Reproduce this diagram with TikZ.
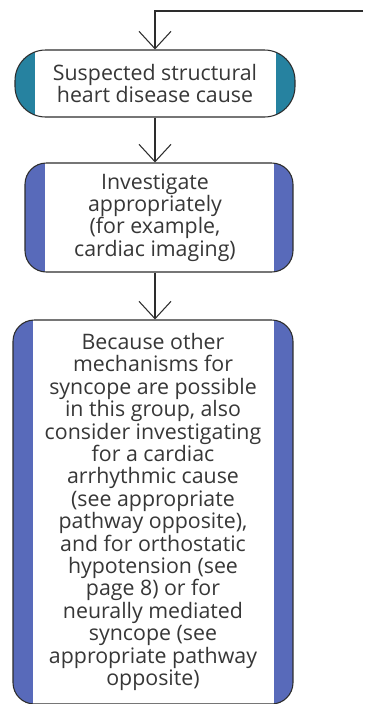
\documentclass[tikz,border=0pt]{standalone}
\usepackage{fontspec}
\setmainfont{Open Sans}
\usetikzlibrary{arrows.meta}
\definecolor{capteal}{RGB}{38,130,160}
\definecolor{capblue}{RGB}{88,106,186}
\definecolor{txtgray}{RGB}{55,55,55}
\definecolor{edgegray}{RGB}{45,45,45}
\tikzset{
  flowbox/.style={draw=edgegray, line width=0.8pt, fill=white, align=center,
    text=txtgray, font=\fontsize{16}{16.8}\selectfont, inner sep=0pt,
    path picture={
      \fill[#1, sharp corners] (path picture bounding box.south west) rectangle ([xshift=15pt]path picture bounding box.north west);
      \fill[#1, sharp corners] ([xshift=-14pt]path picture bounding box.south east) rectangle (path picture bounding box.north east);
    }},
  conn/.style={draw=edgegray, line width=0.8pt, -{Straight Barb[length=13pt,width=24pt,line width=0.8pt]}}
}
\begin{document}
\begin{tikzpicture}[x=0.75pt,y=-0.75pt]
\useasboundingbox (0,0) rectangle (370,704);
\fill[white] (0,0) rectangle (370,704);
\node[flowbox=capteal, rounded corners=23pt, minimum width=210pt, minimum height=50.25pt] (b1) at (155,83.5)
  {Suspected structural\\heart disease cause};
\node[flowbox=capblue, rounded corners=16pt, minimum width=201pt, minimum height=81.75pt] (b2) at (159,217.5)
  {\hspace*{-6pt}Investigate\\\hspace*{-6pt}appropriately\\\hspace*{-6pt}(for example,\\\hspace*{-6pt}cardiac imaging)};
\node[flowbox=capblue, rounded corners=16pt, minimum width=210pt, minimum height=288pt] (b3) at (153,512)
  {Because other\\mechanisms for\\syncope are possible\\in this group, also\\consider investigating\\for a cardiac\\arrhythmic cause\\(see appropriate\\pathway opposite),\\and for orthostatic\\hypotension (see\\page 8) or for\\neurally mediated\\syncope (see\\appropriate pathway\\opposite)};
\coordinate (start) at (363,11);
\draw[conn] (start) -| (b1.north);
\draw[conn] (b1.south) -- (b1.south |- b2.north);
\draw[conn] (b1.south |- b2.south) -- (b1.south |- b3.north);
\end{tikzpicture}
\end{document}
